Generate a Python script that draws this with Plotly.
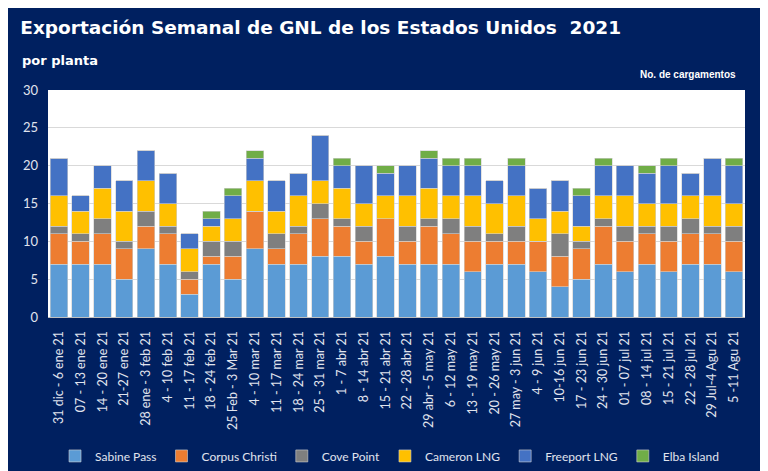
import plotly.graph_objects as go

semanas = [
    "31 dic - 6 ene 21", "07 - 13 ene 21", "14 - 20 ene 21", "21-27 ene 21",
    "28 ene - 3 feb 21", "4 - 10 feb 21", "11 - 17 feb 21", "18 - 24 feb 21",
    "25 Feb - 3 Mar 21", "4 - 10 mar 21", "11 - 17 mar 21", "18 - 24 mar 21",
    "25 - 31 mar 21", "1 - 7 abr 21", "8 - 14 abr 21", "15 - 21 abr 21",
    "22 - 28 abr 21", "29 abr - 5 may 21", "6 - 12 may 21", "13 - 19 may 21",
    "20 - 26 may 21", "27 may - 3 jun 21", "4 - 9 jun 21", "10-16 jun 21",
    "17 - 23 jun 21", "24 - 30 jun 21", "01 - 07 jul 21", "08 - 14 jul 21",
    "15 - 21 jul 21", "22 - 28 jul 21", "29 Jul-4 Agu 21", "5 -11 Agu 21",
]

sabine_pass = [7, 7, 7, 5, 9, 7, 3, 7, 5, 9, 7, 7, 8, 8, 7, 8,
               7, 7, 7, 6, 7, 7, 6, 4, 5, 7, 6, 7, 6, 7, 7, 6]
corpus_christi = [4, 3, 4, 4, 3, 4, 2, 1, 3, 5, 2, 4, 5, 4, 3, 5,
                  3, 5, 4, 4, 3, 3, 4, 4, 4, 5, 4, 4, 4, 4, 4, 4]
cove_point = [1, 1, 2, 1, 2, 1, 1, 2, 2, 0, 2, 1, 2, 1, 2, 0,
              2, 1, 2, 2, 1, 2, 0, 3, 1, 1, 2, 1, 2, 2, 1, 2]
cameron_lng = [4, 3, 4, 4, 4, 3, 3, 2, 3, 4, 3, 4, 3, 4, 3, 3,
               4, 4, 3, 4, 4, 4, 3, 3, 2, 3, 4, 3, 3, 3, 4, 3]
freeport_lng = [5, 2, 3, 4, 4, 4, 2, 1, 3, 3, 4, 3, 6, 3, 5, 3,
                4, 4, 4, 4, 3, 4, 4, 4, 4, 4, 4, 4, 5, 3, 5, 5]
elba_island = [0, 0, 0, 0, 0, 0, 0, 1, 1, 1, 0, 0, 0, 1, 0, 1,
               0, 1, 1, 1, 0, 1, 0, 0, 1, 1, 0, 1, 1, 0, 0, 1]

series = [
    ("Sabine Pass", sabine_pass, "#5B9BD5"),
    ("Corpus Christi", corpus_christi, "#ED7D31"),
    ("Cove Point", cove_point, "#7F7F7F"),
    ("Cameron LNG", cameron_lng, "#FFC000"),
    ("Freeport LNG", freeport_lng, "#4472C4"),
    ("Elba Island", elba_island, "#70AD47"),
]

navy = "#002060"
head_font = "DejaVu Sans, Liberation Sans"
tick_font = dict(family="Lato, DejaVu Sans", size=12.5, color="#E0E4EE")

fig = go.Figure()
for name, vals, color in series:
    fig.add_trace(go.Bar(
        x=semanas, y=vals, name=name,
        marker=dict(color=color, line=dict(color="#D0D0D0", width=0.6)),
    ))

# the page body adds an 8px offset, so margins are shifted to compensate
fig.update_layout(
    barmode="stack",
    bargap=0.2,
    width=768, height=471,
    paper_bgcolor=navy,
    plot_bgcolor="white",
    margin=dict(l=40, r=31, t=82, b=162, autoexpand=False),
    title=dict(
        text="<b>Exportación Semanal de GNL de los Estados Unidos  2021</b>",
        x=0.016, xanchor="left", y=0.958, yanchor="middle",
        font=dict(family=head_font, size=18.5, color="white"),
    ),
    legend=dict(
        orientation="h", x=0.49, xanchor="center", y=-0.612, yanchor="middle",
        font=dict(family="Lato, DejaVu Sans", size=12, color="#E0E4EE"),
        traceorder="normal", itemwidth=30,
        bgcolor="rgba(0,0,0,0)",
    ),
    xaxis=dict(
        tickangle=-90, tickfont=tick_font, showgrid=False, automargin=False,
        showline=True, linecolor="#BFBFBF", ticks="", ticklabelstandoff=8,
    ),
    yaxis=dict(
        range=[0, 30], dtick=5, automargin=False, ticklabelstandoff=9,
        tickfont=dict(family="Lato, DejaVu Sans", size=13, color="#E0E4EE"),
        showgrid=True, gridcolor="#D9D9D9", zeroline=False, ticks="",
    ),
    annotations=[
        dict(text="<b>por planta</b>", xref="paper", yref="paper", x=-0.040, y=1.132,
             xanchor="left", yanchor="middle", showarrow=False,
             font=dict(family=head_font, size=13, color="white")),
        dict(text="<b>No. de cargamentos</b>", xref="paper", yref="paper", x=0.99, y=1.07,
             xanchor="right", yanchor="middle", showarrow=False,
             font=dict(family="Liberation Sans, Arial", size=10, color="white")),
    ],
)

fig.write_html("out.html")
